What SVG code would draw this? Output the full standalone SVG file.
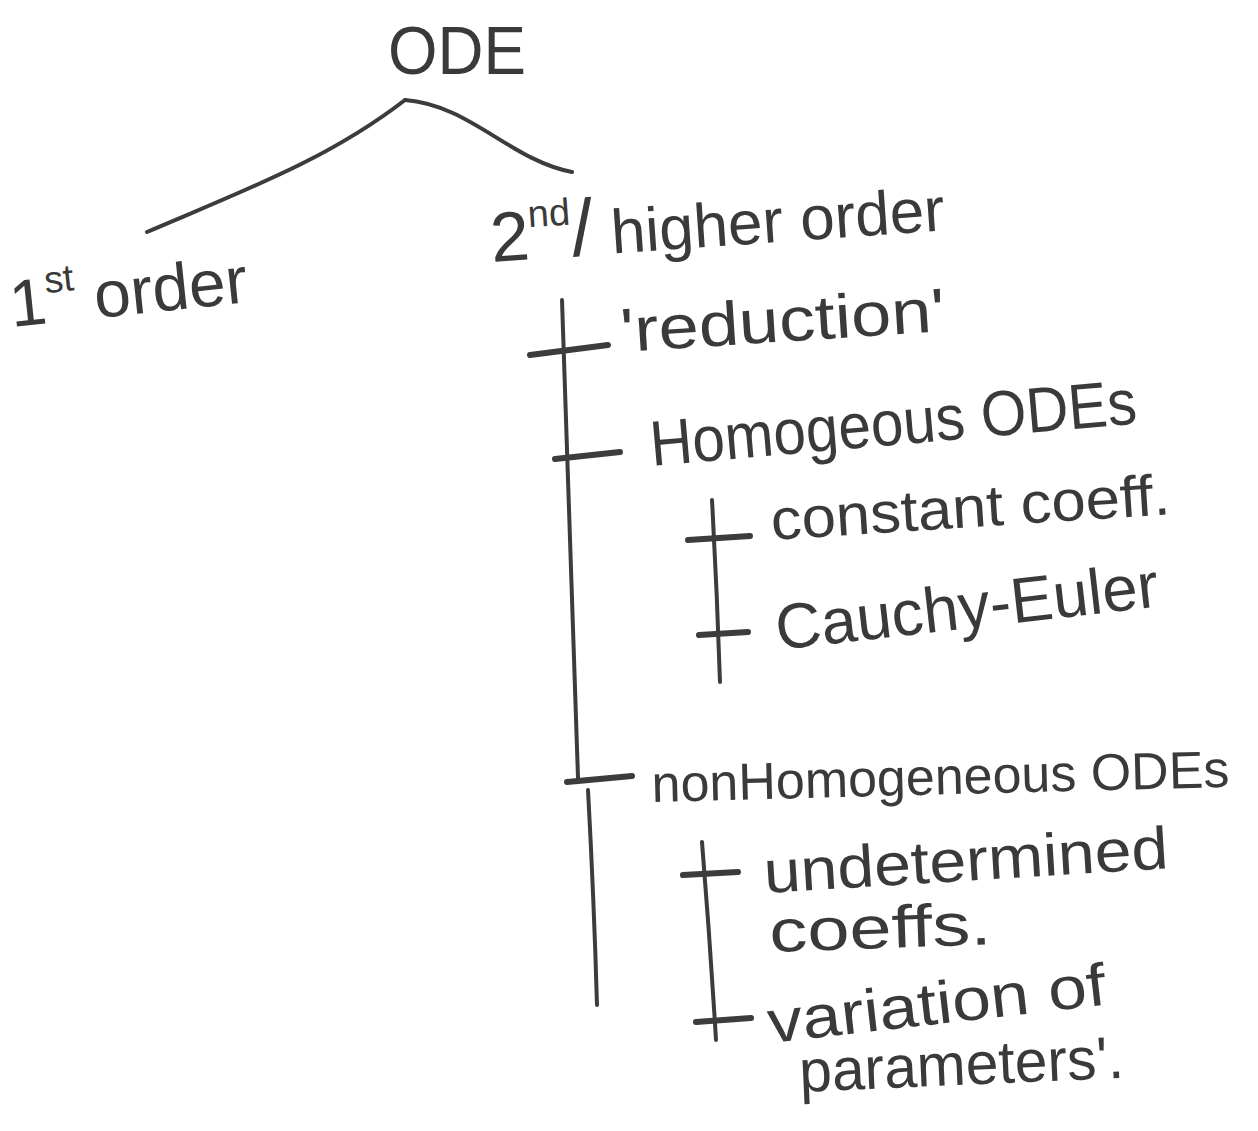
<svg xmlns="http://www.w3.org/2000/svg" width="1258" height="1131" viewBox="0 0 1258 1131">
<style>
.t{font-family:"Liberation Sans","DejaVu Sans",sans-serif;fill:#3a3a3a;}
.l{fill:none;stroke:#3c3c3c;stroke-width:4;stroke-linecap:round;stroke-linejoin:round;}
.tk{fill:none;stroke:#3c3c3c;stroke-width:6;stroke-linecap:round;}
</style>
<rect width="1258" height="1131" fill="#ffffff"/>
<g id="connectors">
<path class="l" d="M147,232 C250,188 330,158 405,100"/>
<path class="l" d="M405,100 C470,105 510,160 572,172"/>
<path class="l" d="M562,300 Q570,550 578,778"/>
<path class="l" d="M588,790 Q594,900 597,1005"/>
<path class="tk" d="M530,355 L608,345"/>
<path class="tk" d="M555,459 L620,452"/>
<path class="tk" d="M567,782 L632,776"/>
<path class="l" d="M712,500 Q717,590 720,682"/>
<path class="tk" d="M688,540 L750,536"/>
<path class="tk" d="M699,635 L748,632"/>
<path class="l" d="M702,842 Q710,940 716,1040"/>
<path class="tk" d="M683,875 L738,872"/>
<path class="tk" d="M696,1022 L751,1018"/>
</g>
<g id="node-ode"><text class="t" x="388" y="74" font-size="68" textLength="138" lengthAdjust="spacingAndGlyphs">ODE</text></g>
<g id="node-1st"><text class="t" x="12" y="327" font-size="66" transform="rotate(-6 12 327)">1<tspan font-size="38" dy="-30">st</tspan><tspan dy="30"> order</tspan></text></g>
<g id="node-2nd"><text class="t" x="492" y="262" font-size="62" transform="rotate(-4 492 262)"><tspan font-size="70">2</tspan><tspan font-size="38" dy="-32">nd</tspan><tspan font-size="80" dy="32">/</tspan><tspan> higher order</tspan></text></g>
<g id="node-reduction"><text class="t" x="622" y="352" font-size="62" textLength="325" lengthAdjust="spacingAndGlyphs" transform="rotate(-3.7 622 352)">'reduction'</text></g>
<g id="node-homog"><text class="t" x="652" y="466" font-size="64" textLength="488" lengthAdjust="spacingAndGlyphs" transform="rotate(-5 652 466)">Homogeous ODEs</text></g>
<g id="node-const"><text class="t" x="772" y="540" font-size="58" textLength="400" lengthAdjust="spacingAndGlyphs" transform="rotate(-3.7 772 540)">constant coeff.</text></g>
<g id="node-cauchy"><text class="t" x="778" y="650" font-size="64" textLength="385" lengthAdjust="spacingAndGlyphs" transform="rotate(-6.5 778 650)">Cauchy-Euler</text></g>
<g id="node-nonhomog"><text class="t" x="652" y="802" font-size="52" textLength="578" lengthAdjust="spacingAndGlyphs" transform="rotate(-1.5 652 802)">nonHomogeneous ODEs</text></g>
<g id="node-undet">
<text class="t" x="765" y="893" font-size="60" textLength="405" lengthAdjust="spacingAndGlyphs" transform="rotate(-3.5 765 893)">undetermined</text>
<text class="t" x="770" y="952" font-size="60" textLength="222" lengthAdjust="spacingAndGlyphs" transform="rotate(-2 770 952)">coeffs.</text>
</g>
<g id="node-variation">
<text class="t" x="770" y="1043" font-size="60" textLength="340" lengthAdjust="spacingAndGlyphs" transform="rotate(-6.5 770 1043)">variation of</text>
<text class="t" x="800" y="1092" font-size="60" textLength="325" lengthAdjust="spacingAndGlyphs" transform="rotate(-2.5 800 1092)">parameters'.</text>
</g>
</svg>
